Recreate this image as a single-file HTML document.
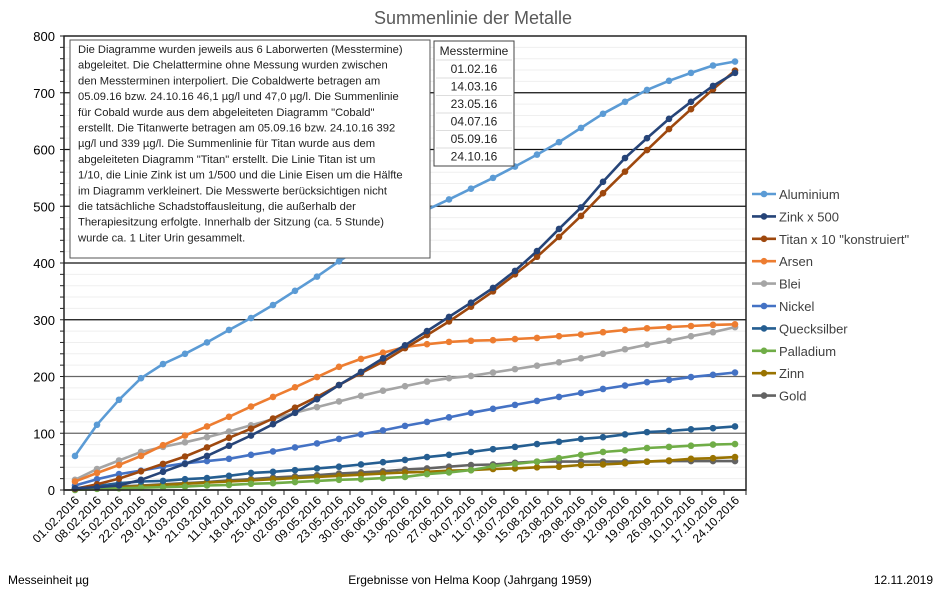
<!DOCTYPE html>
<html><head><meta charset="utf-8"><style>
body{margin:0;background:#fff;}
svg{display:block;font-family:"Liberation Sans",sans-serif;}
</style></head><body>
<svg id="c" width="943" height="592" xmlns="http://www.w3.org/2000/svg">
<rect width="943" height="592" fill="#fff"/>
<text x="473" y="24" font-size="18" fill="#595959" text-anchor="middle">Summenlinie der Metalle</text>
<g id="grid"></g>
<g id="series"></g>
<rect x="64" y="36" width="682" height="454" fill="none" stroke="#222" stroke-width="1.5"/>
<g id="legend" font-size="13" fill="#404040"></g>
<rect x="70" y="40" width="360" height="218" fill="#fff" stroke="#555" stroke-width="1"/>
<g font-size="11.2" fill="#222">
<text x="78" y="53">Die Diagramme wurden jeweils aus 6 Laborwerten (Messtermine)</text>
<text x="78" y="68.7">abgeleitet. Die Chelattermine ohne Messung wurden zwischen</text>
<text x="78" y="84.4">den Messterminen interpoliert. Die Cobaldwerte betragen am</text>
<text x="78" y="100.1">05.09.16 bzw. 24.10.16  46,1 µg/l und 47,0 µg/l. Die Summenlinie</text>
<text x="78" y="115.8">für Cobald wurde aus dem abgeleiteten Diagramm "Cobald"</text>
<text x="78" y="131.5">erstellt. Die Titanwerte  betragen am 05.09.16 bzw. 24.10.16  392</text>
<text x="78" y="147.2">µg/l und 339 µg/l. Die Summenlinie für Titan wurde aus dem</text>
<text x="78" y="162.9">abgeleiteten Diagramm "Titan" erstellt. Die  Linie Titan ist um</text>
<text x="78" y="178.6">1/10, die Linie Zink ist um 1/500 und die Linie Eisen um die Hälfte</text>
<text x="78" y="194.3">im Diagramm  verkleinert. Die Messwerte berücksichtigen nicht</text>
<text x="78" y="210">die tatsächliche  Schadstoffausleitung, die außerhalb der</text>
<text x="78" y="225.7">Therapiesitzung erfolgte. Innerhalb der Sitzung  (ca. 5 Stunde)</text>
<text x="78" y="241.4">wurde ca. 1 Liter Urin gesammelt.</text>
</g>
<rect x="434" y="41" width="80" height="125" fill="#fff" stroke="#444" stroke-width="1"/>
<g font-size="12" fill="#222" text-anchor="middle">
<text x="474" y="55">Messtermine</text>
<text x="474" y="73">01.02.16</text>
<text x="474" y="90.5">14.03.16</text>
<text x="474" y="108">23.05.16</text>
<text x="474" y="125.5">04.07.16</text>
<text x="474" y="143">05.09.16</text>
<text x="474" y="160.5">24.10.16</text>
</g>
<g stroke="#ddd" stroke-width="1">
<line x1="436" y1="60" x2="512" y2="60"/><line x1="436" y1="78" x2="512" y2="78"/><line x1="436" y1="95.5" x2="512" y2="95.5"/><line x1="436" y1="113" x2="512" y2="113"/><line x1="436" y1="130.5" x2="512" y2="130.5"/><line x1="436" y1="148" x2="512" y2="148"/>
</g>
<g id="xl" font-size="12" fill="#000"></g>
<g font-size="12" fill="#000">
<text x="8" y="584">Messeinheit µg</text>
<text x="470" y="584" text-anchor="middle">Ergebnisse von Helma Koop (Jahrgang 1959)</text>
<text x="933" y="584" text-anchor="end">12.11.2019</text>
</g>
</svg>
<script>
var NS="http://www.w3.org/2000/svg";
function el(t,a,p,txt){var e=document.createElementNS(NS,t);for(var k in a)e.setAttribute(k,a[k]);if(txt!=null)e.textContent=txt;document.getElementById(p).appendChild(e);return e;}
function Y(v){return 490-v*0.5675;}
function X(i){return 75+22*i;}
for(var v=20;v<800;v+=20){if(v%100)el("line",{x1:64,x2:746,y1:Y(v),y2:Y(v),stroke:"#efefef","stroke-width":1},"grid");}
for(var v=100;v<800;v+=100){el("line",{x1:64,x2:746,y1:Y(v),y2:Y(v),stroke:(v<=200?"#666":"#111"),"stroke-width":1.2},"grid");}
for(var v=0;v<=800;v+=100){el("text",{x:55,y:Y(v)+5,"font-size":13,"text-anchor":"end",fill:"#000"},"grid",String(v));}
for(var v=0;v<=800;v+=20){el("line",{x1:60,x2:64,y1:Y(v),y2:Y(v),stroke:"#222"},"grid");}
for(var i=0;i<=31;i++){el("line",{x1:64+22*i,x2:64+22*i,y1:490,y2:495,stroke:"#222"},"grid");}
el("line",{x1:64,x2:746,y1:490,y2:490,stroke:"#222","stroke-width":1.5},"grid");
var labs=["01.02.2016","08.02.2016","15.02.2016","22.02.2016","29.02.2016","14.03.2016","21.03.2016","11.04.2016","18.04.2016","25.04.2016","02.05.2016","09.05.2016","23.05.2016","30.05.2016","06.06.2016","13.06.2016","20.06.2016","27.06.2016","04.07.2016","11.07.2016","18.07.2016","15.08.2016","23.08.2016","29.08.2016","05.09.2016","12.09.2016","19.09.2016","26.09.2016","10.10.2016","17.10.2016","24.10.2016"];
labs.forEach(function(l,i){var x=X(i)+5,y=501;el("text",{x:x,y:y,"text-anchor":"end",transform:"rotate(-45 "+x+" "+y+")"},"xl",l);});
var S=[
["Aluminium","#5B9BD5",[60,115,159,197,222,240,260,282,303,326,351,376,403,428,452,474,494,512,531,550,570,591,613,638,663,684,705,721,735,748,755]],
["Zink x 500","#264478",[3,5,8,18,32,46,60,78,96,116,136,160,185,208,232,255,280,305,330,356,386,421,460,498,543,585,620,654,684,712,735]],
["Titan x 10 \"konstruiert\"","#9E480E",[2,10,20,33,46,59,75,92,108,126,145,164,185,206,226,250,273,297,323,350,380,411,446,483,523,561,599,636,671,706,739]],
["Arsen","#ED7D31",[15,30,44,60,79,96,112,129,147,164,181,199,217,231,242,252,257,261,263,264,266,268,271,274,278,282,285,287,289,291,292]],
["Blei","#A5A5A5",[18,37,52,67,76,84,93,103,114,125,136,146,156,166,175,183,191,197,201,207,213,219,225,232,240,248,256,263,271,278,287]],
["Nickel","#4472C4",[8,19,28,34,41,47,51,55,62,68,75,82,90,98,105,113,120,128,136,143,150,157,164,171,178,184,190,194,199,203,207]],
["Quecksilber","#255E91",[3,7,12,15,16,19,21,25,30,32,35,38,41,45,49,53,58,62,67,72,76,81,85,90,93,98,102,104,107,109,112]],
["Palladium","#70AD47",[0,2,3,4,5,6,8,9,11,12,14,16,18,19,21,23,28,31,35,42,46,50,56,62,67,70,74,76,78,80,81]],
["Zinn","#997300",[1,3,5,7,9,11,13,15,17,19,21,23,25,27,29,31,32,34,35,37,38,40,41,44,45,47,50,52,55,56,58]],
["Gold","#636363",[1,4,6,8,10,12,14,17,19,22,24,26,29,31,33,36,38,41,44,45,48,50,50,50,50,50,50,51,51,51,51]]
];
for(var s=S.length-1;s>=0;s--){var d=S[s][2],p="";d.forEach(function(v,i){p+=(i?"L":"M")+X(i)+" "+Y(v).toFixed(1);});
el("path",{d:p,fill:"none",stroke:S[s][1],"stroke-width":2.6,"stroke-linejoin":"round"},"series");
d.forEach(function(v,i){el("circle",{cx:X(i),cy:Y(v),r:3.3,fill:S[s][1]},"series");});}
S.forEach(function(s,k){var y=194+22.4*k;el("line",{x1:752,x2:776,y1:y,y2:y,stroke:s[1],"stroke-width":2.6},"legend");el("circle",{cx:764,cy:y,r:3.3,fill:s[1]},"legend");el("text",{x:779,y:y+5},"legend",s[0]);});
</script>
</body></html>
